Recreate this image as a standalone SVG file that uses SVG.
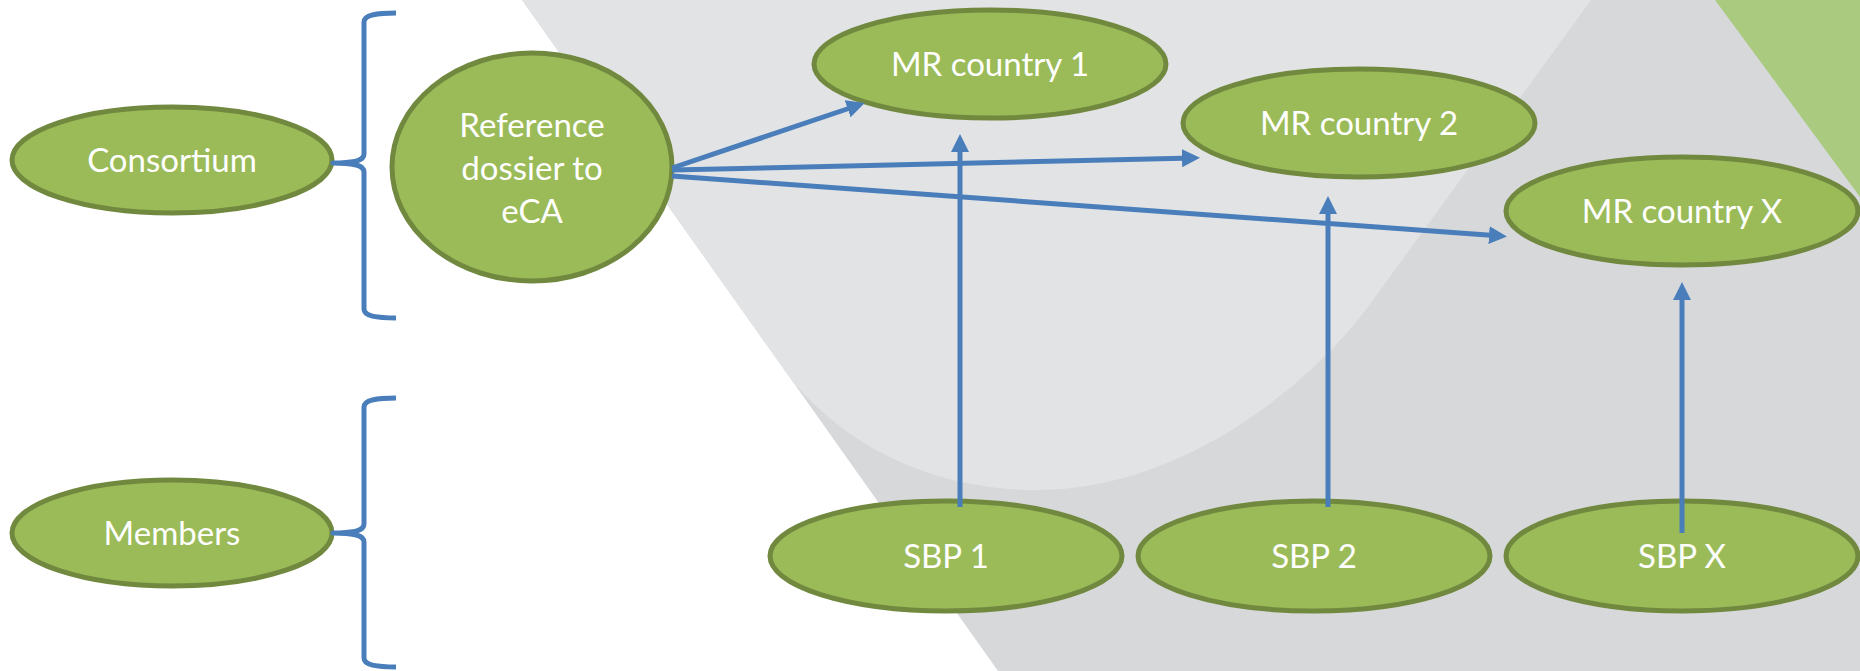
<svg xmlns="http://www.w3.org/2000/svg" width="1860" height="671" viewBox="0 0 1860 671">
  <style>
    .node ellipse { fill: #9BBB59; stroke: #71893F; stroke-width: 5; }
    .node text { fill: #FFFFFF; font-family: Lato, "Open Sans", "Liberation Sans", sans-serif; font-size: 33px; text-anchor: middle; }
    .conn { fill: none; stroke: #4A7EBB; stroke-width: 5; }
    .brace { fill: none; stroke: #4A7EBB; stroke-width: 5; stroke-linejoin: round; }
  </style>
  <defs>
    <marker id="arrow" markerUnits="userSpaceOnUse" markerWidth="18" markerHeight="18" viewBox="0 0 18 18" refX="12" refY="9" orient="auto">
      <path d="M0,0 L18,9 L0,18 z" fill="#4A7EBB"/>
    </marker>
  </defs>

  <g id="background">
    <rect x="0" y="0" width="1860" height="671" fill="#FFFFFF"/>
    <polygon points="522,0 1860,0 1860,671 998,671" fill="#D7D8DA"/>
    <path d="M522,0 L1591,0 L1373,300 C1320,375 1190,490 1037,490 C925,490 840,440 790,378 Z" fill="#E2E3E5"/>
    <polygon points="1715,0 1860,0 1860,197" fill="#AACA80"/>
  </g>

  <g id="consortium" class="node">
    <ellipse cx="172" cy="160" rx="160" ry="53"/>
    <text x="172" y="172">Consortium</text>
  </g>
  <g id="members" class="node">
    <ellipse cx="172" cy="533" rx="160" ry="53"/>
    <text x="172" y="545">Members</text>
  </g>
  <g id="reference" class="node">
    <ellipse cx="532" cy="167" rx="140" ry="114"/>
    <text x="532" y="137">Reference</text>
    <text x="532" y="180">dossier to</text>
    <text x="532" y="223">eCA</text>
  </g>
  <g id="mr1" class="node">
    <ellipse cx="990" cy="64" rx="176" ry="54"/>
    <text x="990" y="76">MR country 1</text>
  </g>
  <g id="mr2" class="node">
    <ellipse cx="1359" cy="123" rx="176" ry="54"/>
    <text x="1359" y="135">MR country 2</text>
  </g>
  <g id="mrx" class="node">
    <ellipse cx="1682" cy="211" rx="176" ry="54"/>
    <text x="1682" y="223">MR country X</text>
  </g>
  <g id="sbp1" class="node">
    <ellipse cx="946" cy="556" rx="176" ry="55"/>
    <text x="946" y="568">SBP 1</text>
  </g>
  <g id="sbp2" class="node">
    <ellipse cx="1314" cy="556" rx="176" ry="55"/>
    <text x="1314" y="568">SBP 2</text>
  </g>
  <g id="sbpx" class="node">
    <ellipse cx="1682" cy="556" rx="176" ry="55"/>
    <text x="1682" y="568">SBP X</text>
  </g>

  <g id="connectors">
    <path class="brace" d="M396,13 C376,13 364,15 364,22 L364,154 C364,160 356,163 333,163 C356,163 364,166 364,172 L364,309 C364,316 376,318 396,318"/>
    <path class="brace" d="M396,398 C376,398 364,400 364,407 L364,524 C364,530 356,533 333,533 C356,533 364,536 364,542 L364,658 C364,665 376,667 396,667"/>
    <line class="conn" x1="672" y1="168" x2="859" y2="105" marker-end="url(#arrow)"/>
    <line class="conn" x1="672" y1="170" x2="1194" y2="158" marker-end="url(#arrow)"/>
    <line class="conn" x1="672" y1="176" x2="1501" y2="236" marker-end="url(#arrow)"/>
    <line class="conn" x1="960" y1="507" x2="960" y2="140" marker-end="url(#arrow)"/>
    <line class="conn" x1="1328" y1="507" x2="1328" y2="202" marker-end="url(#arrow)"/>
    <line class="conn" x1="1682" y1="533" x2="1682" y2="288" marker-end="url(#arrow)"/>
  </g>
</svg>
